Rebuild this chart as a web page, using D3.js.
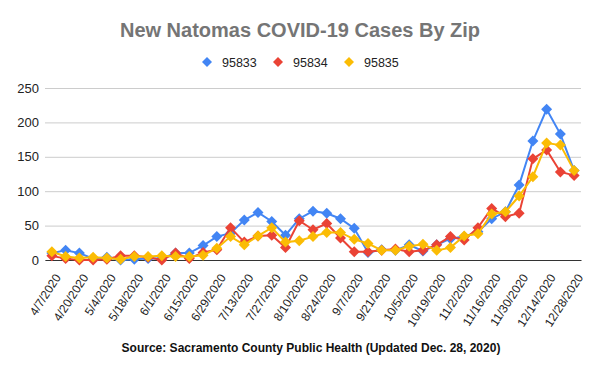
<!DOCTYPE html>
<html><head><meta charset="utf-8">
<script src="https://cdn.jsdelivr.net/npm/d3@7"></script>
<style>body{margin:0;background:#fff;font-family:Arial,"Liberation Sans",sans-serif;}</style>
</head><body><svg id="c" width="600" height="373"></svg>
<script>
const dates = ["4/7/2020","4/13/2020","4/20/2020","4/27/2020","5/4/2020","5/11/2020","5/18/2020","5/25/2020","6/1/2020","6/8/2020","6/15/2020","6/22/2020","6/29/2020","7/6/2020","7/13/2020","7/20/2020","7/27/2020","8/3/2020","8/10/2020","8/17/2020","8/24/2020","8/31/2020","9/7/2020","9/14/2020","9/21/2020","9/28/2020","10/5/2020","10/12/2020","10/19/2020","10/26/2020","11/2/2020","11/9/2020","11/16/2020","11/23/2020","11/30/2020","12/7/2020","12/14/2020","12/21/2020","12/28/2020"];
const zip95833 = [10,14,10,2,4,0,1,2,2,10,10,21,34,39,58,69,56,36,60,71,68,60,46,11,15,14,22,13,22,31,34,41,60,70,109,173,219,183,130];
const zip95834 = [6,2,0,0,1,6,6,4,0,10,2,11,15,47,26,35,36,18,57,44,53,32,12,12,14,16,12,14,22,34,29,47,75,63,68,147,160,128,123];
const zip95835 = [12,5,3,4,3,1,5,5,6,5,5,7,17,34,22,35,47,26,28,34,40,40,30,24,14,14,20,23,14,18,35,38,67,70,93,121,170,167,130];
const seriesNames = ["95833","95834","95835"];
const seriesColors = ["#4285F4","#EA4335","#FBBC04"];
const yTicks = [0,50,100,150,200,250];
const title = "New Natomas COVID-19 Cases By Zip";
const source = "Source: Sacramento County Public Health (Updated Dec. 28, 2020)";

(function(){
const series = [zip95833, zip95834, zip95835].map((v,i)=>({name:seriesNames[i], color:seriesColors[i], values:v}));
const svg = d3.select("#c");
const mL=45, mR=581, mT=88, mB=260;
const x = d3.scaleBand().domain(dates).range([mL,mR]);
const cx = d => x(d) + x.bandwidth()/2;
const y = d3.scaleLinear().domain([0,250]).range([mB,mT]);

svg.append("text").attr("x",300).attr("y",37).attr("text-anchor","middle")
  .attr("font-size",20).attr("font-weight","bold").attr("fill","#757575").text(title);

const yAxis = svg.append("g").attr("transform",`translate(${mL},0)`)
  .call(d3.axisLeft(y).tickValues(yTicks).tickSize(-(mR-mL)).tickPadding(6));
yAxis.select(".domain").remove();
yAxis.selectAll(".tick line").attr("stroke","#cccccc");
yAxis.selectAll(".tick text").attr("font-size",13).attr("fill","#222").attr("font-family","Arial,'Liberation Sans',sans-serif");

const xAxis = svg.append("g").attr("transform",`translate(0,${mB})`)
  .call(d3.axisBottom(x).tickValues(dates.filter((d,i)=>i%2===0)).tickSize(0).tickPadding(0));
xAxis.select(".domain").attr("stroke","#333").attr("stroke-width",1.2);
xAxis.selectAll(".tick text").attr("font-size",12).attr("fill","#222")
  .attr("font-family","Arial,'Liberation Sans',sans-serif")
  .attr("text-anchor","end").attr("dy","0.35em")
  .attr("transform","translate(6,15) rotate(-57)");

const diamond = (s) => `M0,${-s}L${s},0L0,${s}L${-s},0Z`;
const line = d3.line().x((d,i)=>cx(dates[i])).y(d=>y(d));
series.forEach(s=>{
  const g = svg.append("g");
  g.append("path").attr("d",line(s.values)).attr("fill","none").attr("stroke",s.color).attr("stroke-width",2);
  g.selectAll("path.m").data(s.values).join("path").attr("class","m")
    .attr("d",diamond(5.5)).attr("fill",s.color)
    .attr("transform",(d,i)=>`translate(${cx(dates[i])},${y(d)})`);
});

const legX = [207,278,349];
series.forEach((s,i)=>{
  svg.append("path").attr("d",diamond(5)).attr("fill",s.color).attr("transform",`translate(${legX[i]},62)`);
  svg.append("text").attr("x",legX[i]+15).attr("y",66.5).attr("font-size",12.5).attr("fill","#222").text(s.name);
});

svg.append("text").attr("x",311).attr("y",352).attr("text-anchor","middle")
  .attr("font-size",12).attr("font-weight","bold").attr("fill","#111").text(source);
})();
</script></body></html>
